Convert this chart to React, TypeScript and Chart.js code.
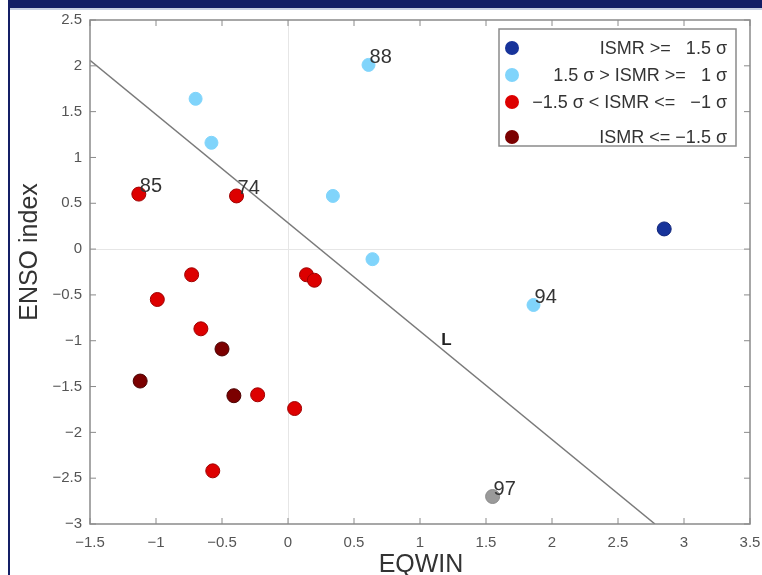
import React, { useEffect, useRef } from "react";
import { Chart, registerables } from "chart.js";

Chart.register(...registerables);

// ---- data ----
const strongExcessX = [2.85];
const strongExcessY = [0.22];
const excessX = [-0.7, -0.58, 0.61, 0.34, 0.64, 1.86];
const excessY = [1.64, 1.16, 2.01, 0.58, -0.11, -0.61];
const deficitX = [-1.13, -0.39, -0.73, -0.99, -0.66, 0.14, 0.2, -0.23, 0.05, -0.57];
const deficitY = [0.6, 0.58, -0.28, -0.55, -0.87, -0.28, -0.34, -1.59, -1.74, -2.42];
const severeX = [-1.12, -0.5, -0.41];
const severeY = [-1.44, -1.09, -1.6];
const normalX = [1.55];
const normalY = [-2.7];
const lineX = [-1.5, 2.78];
const lineY = [2.06, -3];
const yearNames = ["85", "74", "88", "94", "97"];
const yearX = [-1.13, -0.39, 0.61, 1.86, 1.55];
const yearY = [0.6, 0.58, 2.01, -0.61, -2.7];
const lineLabel = "L";
const lineLabelX = 1.2;
const lineLabelY = -1.0;
const xTicks = [-1.5, -1, -0.5, 0, 0.5, 1, 1.5, 2, 2.5, 3, 3.5];
const yTicks = [2.5, 2, 1.5, 1, 0.5, 0, -0.5, -1, -1.5, -2, -2.5, -3];
const legendLabels = [
  "ISMR >=   1.5 \u03c3",
  "1.5 \u03c3 > ISMR >=   1 \u03c3",
  "\u22121.5 \u03c3 < ISMR <=   \u22121 \u03c3",
  "ISMR <= \u22121.5 \u03c3",
];
const legendColors = ["#17339a", "#80d4fb", "#dd0000", "#7b0000"];
const xTitle = "EQWIN";
const yTitle = "ENSO index";

const pts = (xs: number[], ys: number[]) => xs.map((x, i) => ({ x, y: ys[i] }));
const fmt = (v: number) => (v < 0 ? "\u2212" + String(-v) : String(v));

const FONT = "'Liberation Sans', Arial, Helvetica, sans-serif";

const overlay = {
  id: "overlay",
  afterDatasetsDraw(chart: any) {
    const ctx = chart.ctx as CanvasRenderingContext2D;
    const xs = chart.scales.x;
    const ys = chart.scales.y;
    const a = chart.chartArea;
    ctx.save();
    // frame
    ctx.strokeStyle = "#8a8a8a";
    ctx.lineWidth = 1.5;
    ctx.strokeRect(a.left, a.top, a.right - a.left, a.bottom - a.top);
    // inward ticks
    ctx.lineWidth = 1;
    ctx.beginPath();
    xTicks.forEach((t) => {
      const p = xs.getPixelForValue(t);
      ctx.moveTo(p, a.bottom);
      ctx.lineTo(p, a.bottom - 6);
      ctx.moveTo(p, a.top);
      ctx.lineTo(p, a.top + 6);
    });
    yTicks.forEach((t) => {
      const p = ys.getPixelForValue(t);
      ctx.moveTo(a.left, p);
      ctx.lineTo(a.left + 6, p);
      ctx.moveTo(a.right, p);
      ctx.lineTo(a.right - 6, p);
    });
    ctx.stroke();
    // tick labels
    ctx.fillStyle = "#555";
    ctx.font = `15px ${FONT}`;
    ctx.textBaseline = "middle";
    ctx.textAlign = "center";
    xTicks.forEach((t) => {
      ctx.fillText(fmt(t), xs.getPixelForValue(t), a.bottom + 19);
    });
    ctx.textAlign = "right";
    yTicks.forEach((t) => {
      ctx.fillText(fmt(t), a.left - 8, ys.getPixelForValue(t));
    });
    // axis titles
    ctx.fillStyle = "#333";
    ctx.font = `25px ${FONT}`;
    ctx.textAlign = "center";
    ctx.fillText(xTitle, 421, 565);
    ctx.save();
    ctx.translate(30, 252);
    ctx.rotate(-Math.PI / 2);
    ctx.fillText(yTitle, 0, 0);
    ctx.restore();
    // year labels
    ctx.font = `20px ${FONT}`;
    ctx.fillStyle = "#333";
    ctx.textAlign = "left";
    ctx.textBaseline = "alphabetic";
    yearNames.forEach((n, i) => {
      ctx.fillText(n, xs.getPixelForValue(yearX[i]) + 1, ys.getPixelForValue(yearY[i]) - 2);
    });
    // line label
    ctx.font = `bold 17px ${FONT}`;
    ctx.fillStyle = "#222";
    ctx.textAlign = "center";
    ctx.textBaseline = "middle";
    ctx.fillText(lineLabel, xs.getPixelForValue(lineLabelX), ys.getPixelForValue(lineLabelY));
    // legend
    const lx = 499, ly = 29, lw = 237, lh = 117;
    ctx.fillStyle = "#fff";
    ctx.fillRect(lx, ly, lw, lh);
    ctx.strokeStyle = "#8a8a8a";
    ctx.lineWidth = 1.5;
    ctx.strokeRect(lx, ly, lw, lh);
    const rows = [48, 75, 102, 137];
    ctx.font = `18px ${FONT}`;
    ctx.textAlign = "right";
    ctx.textBaseline = "middle";
    legendLabels.forEach((lab, i) => {
      ctx.beginPath();
      ctx.arc(512, rows[i], 7, 0, Math.PI * 2);
      ctx.fillStyle = legendColors[i];
      ctx.fill();
      ctx.fillStyle = "#333";
      ctx.fillText(lab, 727, rows[i] + 1);
    });
    ctx.restore();
  },
};

export default function App() {
  const ref = useRef<HTMLCanvasElement | null>(null);
  useEffect(() => {
    if (!ref.current) return;
    const chart = new Chart(ref.current, {
      type: "scatter",
      data: {
        datasets: [
          {
            type: "line",
            data: pts(lineX, lineY),
            borderColor: "#7a7a7a",
            borderWidth: 1.5,
            pointRadius: 0,
            showLine: true,
            fill: false,
          } as any,
          {
            data: pts(strongExcessX, strongExcessY),
            backgroundColor: "#17339a",
            borderColor: "#10257a",
            borderWidth: 1,
            pointRadius: 7,
          },
          {
            data: pts(excessX, excessY),
            backgroundColor: "#80d4fb",
            borderColor: "#80d4fb",
            borderWidth: 1,
            pointRadius: 6.5,
          },
          {
            data: pts(deficitX, deficitY),
            backgroundColor: "#dd0000",
            borderColor: "#a00000",
            borderWidth: 1,
            pointRadius: 7,
          },
          {
            data: pts(severeX, severeY),
            backgroundColor: "#7b0000",
            borderColor: "#4a0000",
            borderWidth: 1,
            pointRadius: 7,
          },
          {
            data: pts(normalX, normalY),
            backgroundColor: "#9a9a9a",
            borderColor: "#8a8a8a",
            borderWidth: 1,
            pointRadius: 7,
          },
        ],
      },
      options: {
        animation: false,
        responsive: false,
        layout: { padding: { top: 20, right: 12, left: 0, bottom: 0 } },
        plugins: { legend: { display: false }, tooltip: { enabled: false } },
        scales: {
          x: {
            type: "linear",
            min: -1.5,
            max: 3.5,
            ticks: { display: false, stepSize: 0.5 },
            border: { display: false },
            grid: {
              drawTicks: false,
              color: (c: any) => (c.tick && c.tick.value === 0 ? "#e6e6e6" : "rgba(0,0,0,0)"),
            },
            afterFit: (s: any) => {
              s.height = 51;
            },
          },
          y: {
            type: "linear",
            min: -3,
            max: 2.5,
            ticks: { display: false, stepSize: 0.5 },
            border: { display: false },
            grid: {
              drawTicks: false,
              color: (c: any) => (c.tick && c.tick.value === 0 ? "#e6e6e6" : "rgba(0,0,0,0)"),
            },
            afterFit: (s: any) => {
              s.width = 90;
            },
          },
        },
      },
      plugins: [overlay],
    });
    return () => chart.destroy();
  }, []);
  return (
    <div style={{ position: "fixed", left: 0, top: 0, width: 762, height: 575, background: "#fff", overflow: "hidden" }}>
      <canvas ref={ref} width={762} height={575} style={{ position: "absolute", left: 0, top: 0 }} />
      <div style={{ position: "absolute", left: 8, top: 0, width: 754, height: 8, background: "#141f66" }} />
      <div style={{ position: "absolute", left: 10, top: 8, width: 752, height: 2, background: "#c9d0e2" }} />
      <div style={{ position: "absolute", left: 8, top: 0, width: 2, height: 575, background: "#141f66" }} />
    </div>
  );
}
